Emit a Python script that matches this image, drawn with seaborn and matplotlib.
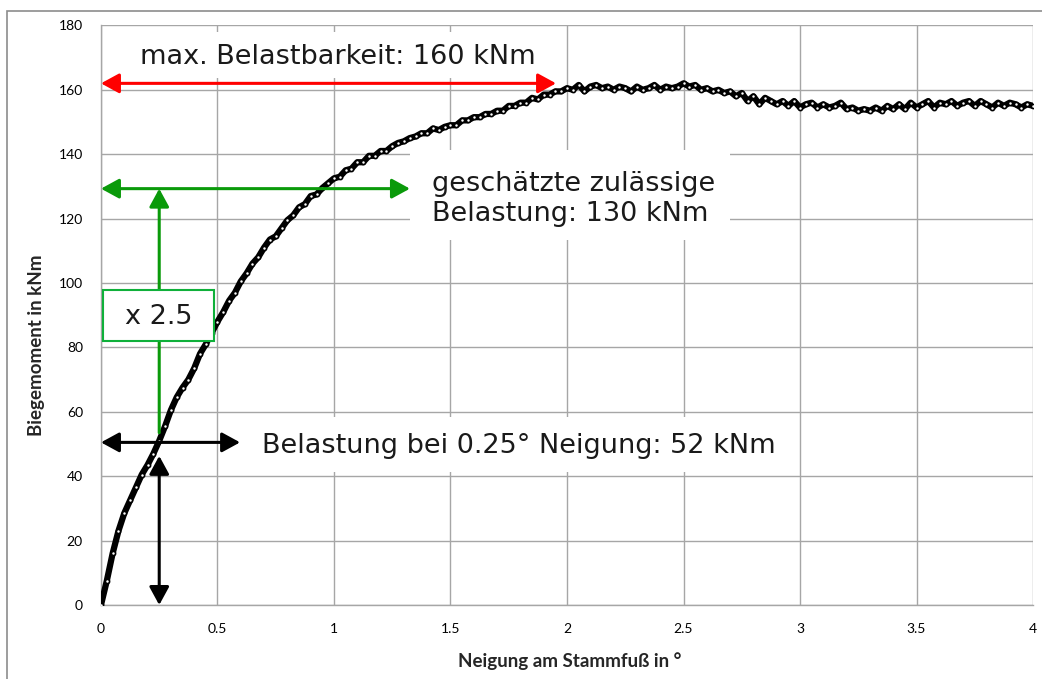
import numpy as np
import pandas as pd
import matplotlib.pyplot as plt
import seaborn as sns
from matplotlib.patches import Rectangle

neigung = [
    0.000, 0.025, 0.050, 0.075, 0.100, 0.125, 0.150, 0.175, 0.200, 0.225,
    0.250, 0.275, 0.300, 0.325, 0.350, 0.375, 0.400, 0.425, 0.450, 0.475,
    0.500, 0.525, 0.550, 0.575, 0.600, 0.625, 0.650, 0.675, 0.700, 0.725,
    0.750, 0.775, 0.800, 0.825, 0.850, 0.875, 0.900, 0.925, 0.950, 0.975,
    1.000, 1.025, 1.050, 1.075, 1.100, 1.125, 1.150, 1.175, 1.200, 1.225,
    1.250, 1.275, 1.300, 1.325, 1.350, 1.375, 1.400, 1.425, 1.450, 1.475,
    1.500, 1.525, 1.550, 1.575, 1.600, 1.625, 1.650, 1.675, 1.700, 1.725,
    1.750, 1.775, 1.800, 1.825, 1.850, 1.875, 1.900, 1.925, 1.950, 1.975,
    2.000, 2.025, 2.050, 2.075, 2.100, 2.125, 2.150, 2.175, 2.200, 2.225,
    2.250, 2.275, 2.300, 2.325, 2.350, 2.375, 2.400, 2.425, 2.450, 2.475,
    2.500, 2.525, 2.550, 2.575, 2.600, 2.625, 2.650, 2.675, 2.700, 2.725,
    2.750, 2.775, 2.800, 2.825, 2.850, 2.875, 2.900, 2.925, 2.950, 2.975,
    3.000, 3.025, 3.050, 3.075, 3.100, 3.125, 3.150, 3.175, 3.200, 3.225,
    3.250, 3.275, 3.300, 3.325, 3.350, 3.375, 3.400, 3.425, 3.450, 3.475,
    3.500, 3.525, 3.550, 3.575, 3.600, 3.625, 3.650, 3.675, 3.700, 3.725,
    3.750, 3.775, 3.800, 3.825, 3.850, 3.875, 3.900, 3.925, 3.950, 3.975,
    4.000,
]
moment = [
    0.0, 7.5, 16.0, 23.0, 28.5, 32.5, 36.5, 40.5, 43.5, 47.0,
    51.0, 55.5, 60.5, 64.5, 67.5, 70.0, 73.5, 78.0, 81.0, 84.5,
    88.0, 91.0, 94.5, 97.0, 100.5, 103.0, 106.0, 108.0, 111.0, 113.5,
    114.5, 117.0, 119.5, 121.0, 123.5, 124.5, 127.0, 127.5, 129.5, 131.0,
    132.5, 133.0, 135.0, 135.5, 137.5, 137.5, 139.5, 139.5, 141.0, 141.0,
    142.5, 143.5, 144.0, 145.0, 145.5, 146.5, 146.5, 148.0, 147.5, 148.5,
    149.0, 149.0, 150.5, 150.5, 151.5, 151.5, 152.5, 152.5, 153.5, 153.5,
    155.0, 155.0, 156.0, 156.0, 157.5, 157.0, 158.5, 158.5, 159.5, 159.5,
    160.5, 160.0, 161.5, 159.5, 161.0, 161.5, 160.5, 161.0, 160.0, 161.0,
    160.5, 159.5, 161.0, 160.0, 160.5, 161.5, 160.0, 161.0, 160.5, 161.0,
    162.0, 161.0, 161.5, 160.0, 160.5, 159.5, 160.0, 159.0, 159.5, 158.0,
    159.0, 156.5, 158.0, 155.5, 157.5, 156.5, 155.5, 156.5, 155.0, 156.5,
    154.5, 155.5, 156.0, 154.5, 155.5, 154.5, 155.0, 156.0, 154.0, 154.5,
    153.5, 154.0, 153.5, 154.5, 153.5, 155.0, 154.0, 155.5, 154.0, 156.0,
    154.5, 155.5, 156.5, 154.5, 156.0, 155.5, 156.5, 155.0, 156.0, 156.5,
    155.0, 156.5, 155.5, 154.5, 156.0, 155.0, 156.0, 155.5, 154.5, 155.5,
    155.0,
]

x_ticks = [0, 0.5, 1, 1.5, 2, 2.5, 3, 3.5, 4]
x_tick_labels = ["0", "0.5", "1", "1.5", "2", "2.5", "3", "3.5", "4"]
y_ticks = [0, 20, 40, 60, 80, 100, 120, 140, 160, 180]

df = pd.DataFrame({"neigung": neigung, "moment": moment})

sns.set_theme(style="white")
plt.rcParams['font.family'] = ['DejaVu Sans']

fig = plt.figure(figsize=(10.42, 6.79), dpi=100)
ax = fig.add_axes([0.0969, 0.109, 0.8945, 0.8536])

# Rahmen um das Diagramm
fig.patches.append(Rectangle((0.0067, -0.1), 1.2, 1.0840, transform=fig.transFigure,
                             fill=False, ec="#8c8c8c", lw=1.2))

sns.lineplot(data=df, x="neigung", y="moment", sort=False, ax=ax, color="black",
             lw=4.5, marker="o", markersize=3, markerfacecolor="white",
             markeredgecolor="black", markeredgewidth=1.2, zorder=3)

ax.set_xlim(0, 4)
ax.set_ylim(0, 180)
ax.set_xticks(x_ticks)
ax.set_xticklabels(x_tick_labels)
ax.set_yticks(y_ticks)
ax.grid(True, color="#a6a6a6", lw=1.0)
ax.set_axisbelow(True)
for s in ["top", "right"]:
    ax.spines[s].set_visible(False)
for s in ["left", "bottom"]:
    ax.spines[s].set_color("#a6a6a6")
    ax.spines[s].set_linewidth(1.0)
ax.tick_params(axis="both", length=5, width=1, color="#a6a6a6", labelsize=10,
               labelcolor="black", direction="out", pad=8)
for lab in ax.get_xticklabels() + ax.get_yticklabels():
    lab.set_family("Lato")

ax.set_xlabel("Neigung am Stammfuß in °", fontsize=13.5, fontweight="bold", family="Lato")
ax.set_ylabel("Biegemoment in kNm", fontsize=13.5, fontweight="bold", family="Lato")
ax.xaxis.set_label_coords(0.503, -0.082)
ax.yaxis.set_label_coords(-0.060, 0.449)

def pfeil(x0, y0, x1, y1, farbe, stil="<|-|>"):
    ax.annotate("", xy=(x1, y1), xytext=(x0, y0),
                arrowprops=dict(arrowstyle=stil + ",head_length=0.55,head_width=0.3",
                                color=farbe, lw=2.2, shrinkA=0, shrinkB=0,
                                mutation_scale=20), zorder=5)

def weiss(x0, x1, y0, y1):
    ax.add_patch(Rectangle((x0, y0), x1 - x0, y1 - y0, fc="white", ec="none", zorder=2.5))

# max. Belastbarkeit
weiss(0.10, 1.92, 163.8, 178.1)
pfeil(0.0, 162, 1.953, 162, "#ff0000")
ax.text(0.167, 170.3, "max. Belastbarkeit: 160 kNm", fontsize=19.5, va="center", ha="left",
        color="#1a1a1a", zorder=4)

# geschätzte zulässige Belastung
weiss(1.326, 2.70, 113.4, 141.4)
ax.text(1.42, 126.2, "geschätzte zulässige\nBelastung: 130 kNm", fontsize=19.5, va="center",
        ha="left", color="#1a1a1a", linespacing=1.2, zorder=4)
pfeil(0.0, 129.3, 1.326, 129.3, "#0a9a0a")
pfeil(0.25, 53.5, 0.25, 129.3, "#0a9a0a", stil="-|>")

# x 2.5
ax.add_patch(Rectangle((0.0086, 82.0), 0.4764, 15.9, fc="white", ec="#0fb03a", lw=1.5, zorder=6))
ax.text(0.249, 89.4, "x 2.5", fontsize=19.5, va="center", ha="center", color="#1a1a1a", zorder=7)

# Belastung bei 0.25°
weiss(0.64, 2.96, 41.3, 58.4)
pfeil(0.0, 50.5, 0.597, 50.5, "black")
pfeil(0.25, 46.3, 0.25, 0.0, "black")
ax.text(0.691, 49.4, "Belastung bei 0.25° Neigung: 52 kNm", fontsize=19.5, va="center",
        ha="left", color="#1a1a1a", zorder=4)

fig.savefig("out.png", dpi=100)
